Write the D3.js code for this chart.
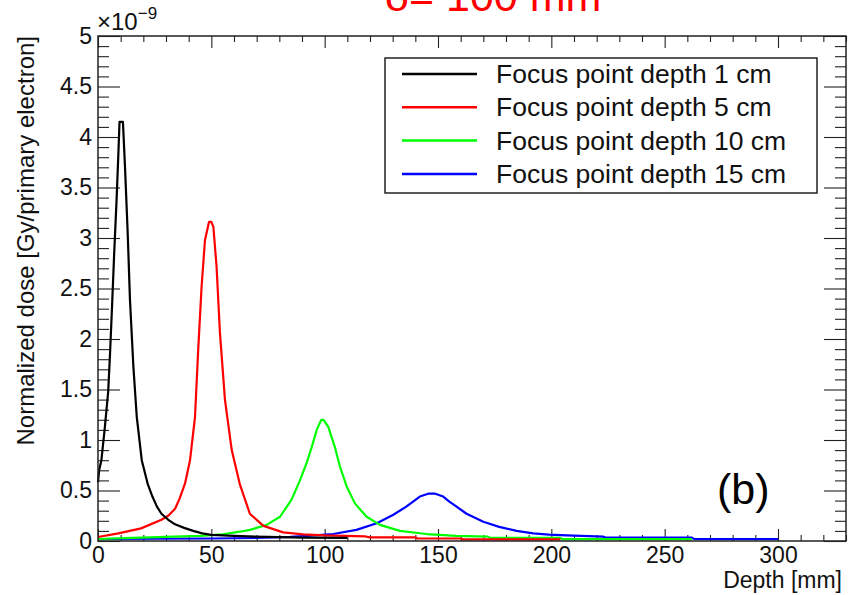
<!DOCTYPE html>
<html>
<head>
<meta charset="utf-8">
<script src="https://cdn.jsdelivr.net/npm/d3@7/dist/d3.min.js"></script>
<style>
  html, body { margin: 0; padding: 0; background: #fff; }
  svg { display: block; }
  text { font-family: "Liberation Sans", Arial, sans-serif; }
</style>
</head>
<body>
<svg id="chart" width="848" height="595"></svg>
<script>
// ---- data (depth in mm, dose in 1e-9 Gy/primary electron) ----
const seriesNames = ["Focus point depth 1 cm", "Focus point depth 5 cm", "Focus point depth 10 cm", "Focus point depth 15 cm"];
const seriesColors = ["#000000", "#ff0000", "#00ff00", "#0000ff"];

const focus1cm = [[0,0.58],[0.5,0.70],[1.5,0.80],[3,1.12],[4.5,1.48],[5.3,1.85],[6.3,2.38],[7.2,2.88],[8.2,3.38],[9,3.84],[9.5,4.15],[11,4.15],[11.9,3.71],[13.1,3.05],[14.1,2.39],[15.6,1.73],[17.1,1.23],[19.3,0.80],[22,0.56],[24,0.44],[26,0.34],[28,0.27],[31,0.21],[34,0.165],[38,0.13],[42,0.10],[46,0.076],[50,0.06],[60,0.05],[75,0.04],[90,0.034],[110,0.03]];
const focus5cm = [[0,0.04],[9,0.075],[19,0.125],[28,0.21],[31,0.25],[34,0.32],[36,0.42],[38.4,0.57],[40.6,0.80],[42.8,1.23],[44.2,1.89],[45.7,2.52],[47.2,2.98],[49,3.16],[50,3.16],[50.9,3.11],[52.3,2.72],[53.8,2.06],[56,1.40],[59,0.90],[62.6,0.56],[67,0.27],[73,0.15],[81.7,0.085],[90.5,0.065],[100,0.055],[118,0.045],[120,0.036],[140,0.036],[141,0.025],[160,0.025],[161,0.017],[204,0.017]];
const focus10cm = [[0,0.02],[15,0.03],[30,0.04],[45,0.05],[55,0.065],[62.6,0.092],[67,0.11],[74.4,0.16],[80.3,0.24],[85.4,0.41],[89.1,0.60],[92,0.77],[94.3,0.93],[96.5,1.10],[98.5,1.20],[99.5,1.20],[101.6,1.13],[104.5,0.93],[106.7,0.74],[109.7,0.54],[113.4,0.37],[118.5,0.24],[124.4,0.16],[133.2,0.10],[145,0.069],[158,0.05],[172,0.043],[173,0.03],[204,0.03],[205,0.018],[262,0.018]];
const focus15cm = [[0,0.02],[50,0.025],[70,0.03],[85,0.04],[92,0.05],[103.8,0.069],[114,0.11],[123,0.175],[130.3,0.26],[136,0.34],[142,0.44],[146,0.47],[148.5,0.47],[152.3,0.44],[155,0.39],[158.2,0.34],[162.6,0.27],[170,0.19],[177,0.14],[184.7,0.10],[192,0.076],[199,0.063],[206.7,0.056],[223,0.043],[224,0.033],[262,0.033],[263,0.02],[300,0.02]];
const allSeries = [focus1cm, focus5cm, focus10cm, focus15cm];

const xTicks = [0, 50, 100, 150, 200, 250, 300];
const yTicks = [0, 0.5, 1, 1.5, 2, 2.5, 3, 3.5, 4, 4.5, 5];
const xMinorStep = 10;
const yMinorStep = 0.1;
const xDomain = [0, 330];
const yDomain = [0, 5];

// ---- layout ----
const L = 98, R = 846, T = 36, B = 541;
const svg = d3.select("#chart");
const x = d3.scaleLinear().domain(xDomain).range([L, R]);
const y = d3.scaleLinear().domain(yDomain).range([B, T]);

const xMinor = d3.range(xDomain[0], xDomain[1] + 0.001, xMinorStep).filter(v => !xTicks.includes(v));
const yMinor = d3.range(0, 51).map(i => +(i * yMinorStep).toFixed(2)).filter(v => !yTicks.includes(v));

// title (cut off at top, as in the reference)
svg.append("text").attr("x", 385).attr("y", 11)
  .attr("font-size", 43).attr("fill", "#ff0000").text("δ= 100 mm");

function styleAxis(g) {
  g.select(".domain").remove();
  g.selectAll(".tick line").attr("stroke", "#222").attr("stroke-width", 1.1);
  g.selectAll("text").attr("font-family", "Liberation Sans, Arial, sans-serif").attr("font-size", 23).attr("fill", "#111");
}

// bottom
svg.append("g").attr("transform", `translate(0,${B})`)
  .call(d3.axisBottom(x).tickValues(xTicks).tickSize(-12).tickPadding(6).tickFormat(d => String(d)))
  .call(styleAxis);
svg.append("g").attr("transform", `translate(0,${B})`)
  .call(d3.axisBottom(x).tickValues(xMinor).tickSize(-6).tickFormat(""))
  .call(styleAxis);
// top
svg.append("g").attr("transform", `translate(0,${T})`)
  .call(d3.axisTop(x).tickValues(xTicks).tickSize(-12).tickFormat(""))
  .call(styleAxis);
svg.append("g").attr("transform", `translate(0,${T})`)
  .call(d3.axisTop(x).tickValues(xMinor).tickSize(-6).tickFormat(""))
  .call(styleAxis);
// left
svg.append("g").attr("transform", `translate(${L},0)`)
  .call(d3.axisLeft(y).tickValues(yTicks).tickSize(-22).tickPadding(6).tickFormat(d => String(d)))
  .call(styleAxis);
svg.append("g").attr("transform", `translate(${L},0)`)
  .call(d3.axisLeft(y).tickValues(yMinor).tickSize(-11).tickFormat(""))
  .call(styleAxis);
// right
svg.append("g").attr("transform", `translate(${R},0)`)
  .call(d3.axisRight(y).tickValues(yTicks).tickSize(-22).tickFormat(""))
  .call(styleAxis);
svg.append("g").attr("transform", `translate(${R},0)`)
  .call(d3.axisRight(y).tickValues(yMinor).tickSize(-11).tickFormat(""))
  .call(styleAxis);

// exponent label
const ex = svg.append("text").attr("x", 97).attr("y", 30).attr("font-size", 24).attr("fill", "#111");
ex.append("tspan").text("×10");
ex.append("tspan").attr("font-size", 17).attr("dy", -11).text("−9");

// axis titles
svg.append("text").attr("transform", `translate(34,${T}) rotate(-90)`)
  .attr("text-anchor", "end").attr("font-size", 24).attr("fill", "#111")
  .text("Normalized dose [Gy/primary electron]");
svg.append("text").attr("x", 842).attr("y", 588).attr("text-anchor", "end")
  .attr("font-size", 23).attr("fill", "#111").text("Depth [mm]");

// curves
const line = d3.line().x(d => x(d[0])).y(d => y(d[1]));
const curves = svg.append("g");
[3, 2, 1, 0].forEach(i => {
  curves.append("path").attr("d", line(allSeries[i]))
    .attr("fill", "none").attr("stroke", seriesColors[i]).attr("stroke-width", 2.2)
    .attr("stroke-linejoin", "round");
});

// frame
svg.append("rect").attr("x", L).attr("y", T).attr("width", R - L).attr("height", B - T)
  .attr("fill", "none").attr("stroke", "#222").attr("stroke-width", 1.5);

// legend
const lg = svg.append("g");
lg.append("rect").attr("x", 385).attr("y", 58).attr("width", 432).attr("height", 135)
  .attr("fill", "#fff").attr("stroke", "#222").attr("stroke-width", 1.5);
seriesNames.forEach((name, i) => {
  const yy = 74 + i * 33.3;
  lg.append("line").attr("x1", 402).attr("x2", 477).attr("y1", yy).attr("y2", yy)
    .attr("stroke", seriesColors[i]).attr("stroke-width", 2.5);
  lg.append("text").attr("x", 496).attr("y", yy + 9).attr("font-size", 26.5).attr("fill", "#111").text(name);
});

// panel label
svg.append("text").attr("x", 717).attr("y", 504).attr("font-size", 43).attr("fill", "#000").text("(b)");
</script>
</body>
</html>
